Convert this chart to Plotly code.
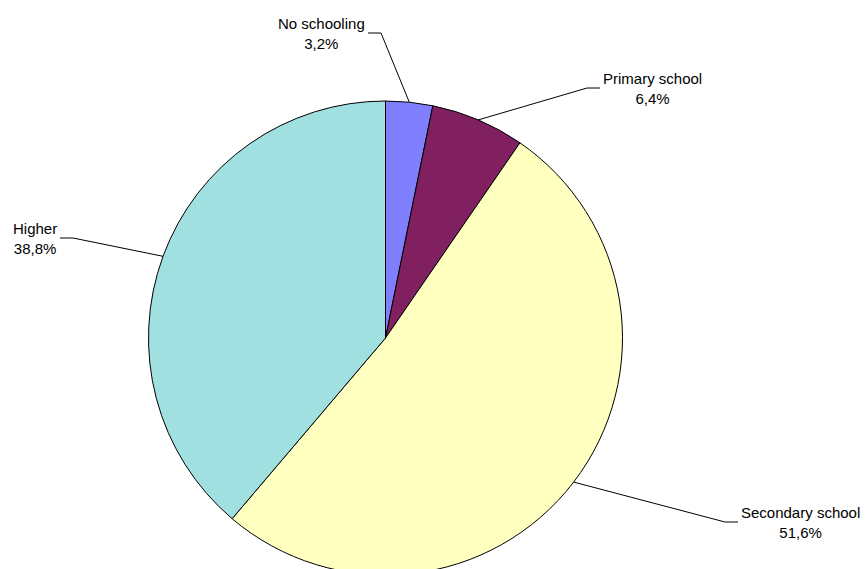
import math
import plotly.graph_objects as go

# Data
categories = ["No schooling", "Primary school", "Secondary school", "Higher"]
shares = [3.2, 6.4, 51.6, 38.8]
colors = ["#8080FF", "#802060", "#FFFFC0", "#A0E0E0"]

# Layout (pixels)
W, H = 865, 600
CX, CY, R = 385.5, 338, 237
# label anchor: (x of text edge, y of text middle, side the text sits on)
label_pos = [(366, 33, "left"), (602, 88, "right"), (740, 522, "right"), (58, 238, "left")]
FONT = "Liberation Sans, Arial, sans-serif"


def px(x, y):
    return x / W, 1 - y / H


fig = go.Figure(go.Pie(
    labels=categories,
    values=shares,
    sort=False,
    direction="clockwise",
    rotation=0,
    marker=dict(colors=colors, line=dict(color="black", width=1)),
    textinfo="none",
    hoverinfo="label+percent",
    showlegend=False,
    domain=dict(x=[(CX - R) / W, (CX + R) / W], y=[(H - CY - R) / H, (H - CY + R) / H]),
))

total = sum(shares)
cum = 0.0
shapes = []
annotations = []
for name, v, (lx, ly, side) in zip(categories, shares, label_pos):
    mid = (cum + v / 2) / total * 2 * math.pi
    cum += v
    ex, ey = CX + R * math.sin(mid), CY - R * math.cos(mid)
    if side == "left":
        end_x, elbow_x = lx + 2, lx + 15
        xanchor = "right"
    else:
        end_x, elbow_x = lx - 2, lx - 15
        xanchor = "left"
    x0, y0 = px(ex, ey)
    x1, y1 = px(elbow_x, ly)
    x2, y2 = px(end_x, ly)
    shapes.append(dict(type="path", xref="paper", yref="paper",
                       path=f"M {x0} {y0} L {x1} {y1} L {x2} {y2}",
                       line=dict(color="black", width=1)))
    ax, ay = px(lx, ly)
    pct = f"{v:.1f}".replace(".", ",") + "%"
    annotations.append(dict(x=ax, y=ay, xref="paper", yref="paper",
                            text=f"{name}<br>{pct}", showarrow=False,
                            xanchor=xanchor, yanchor="middle", align="center",
                            borderpad=0,
                            font=dict(family=FONT, size=15, color="black")))

fig.update_layout(
    width=W, height=H,
    margin=dict(l=0, r=0, t=0, b=0),
    paper_bgcolor="white", plot_bgcolor="white",
    shapes=shapes, annotations=annotations,
)

fig.write_html("out.html")
